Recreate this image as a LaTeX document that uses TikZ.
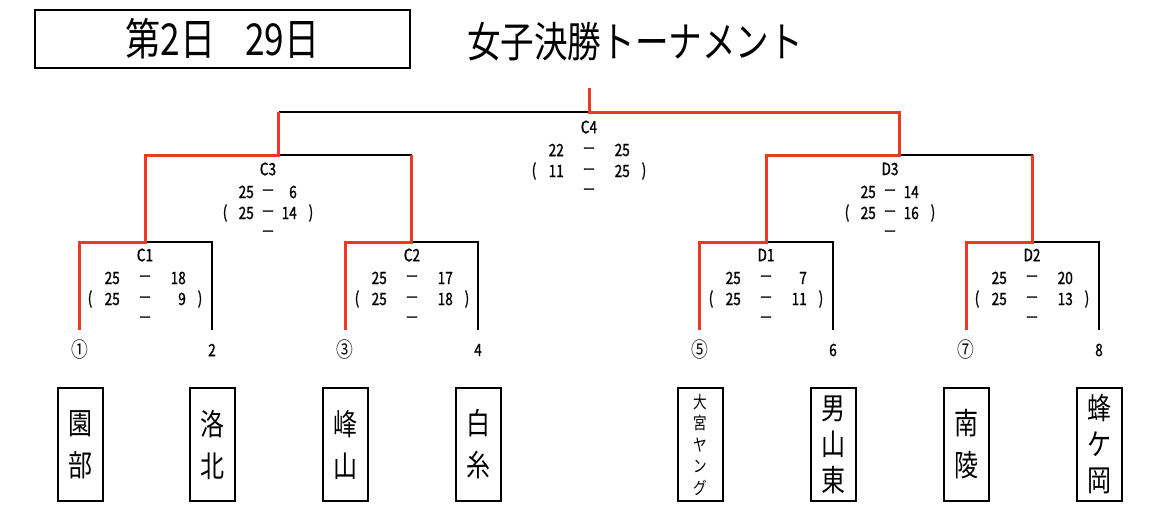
\documentclass[tikz,border=0pt]{standalone}
\usepackage{fontspec}
\setmainfont[FakeStretch=0.8]{Noto Sans CJK JP}
\newfontfamily\scorefont[FakeStretch=0.8,FakeBold=1.2]{Noto Sans CJK JP}
\usetikzlibrary{positioning}
\definecolor{winred}{RGB}{235,58,36}

% one match: name, x, y of label, left gap, right gap, scores
\newcommand{\game}[9]{%
  \node[lbl] (#1) at (#2,#3) {#1};
  \node[sc, anchor=east] (#1a) at (#2-#4,#3+23) {#6};
  \node[sc] (#1m) at (#2,#3+24) {－};
  \node[sc, anchor=east] (#1b) at (#2+#5,#3+23) {#7};
  \node[sc] (#1l) at (#2-#5-14,#3+44) {(};
  \node[sc, anchor=east] (#1c) at (#2-#4,#3+44) {#8};
  \node[sc] (#1n) at (#2,#3+45) {－};
  \node[sc, anchor=east] (#1e) at (#2+#5,#3+44) {#9};
  \node[sc] (#1r) at (#2+#5+14,#3+44) {)};
  \node[sc] (#1o) at (#2,#3+65) {－};
}

\begin{document}
\begin{tikzpicture}[x=1pt,y=-1pt,
    lbl/.style={inner sep=0pt,font=\scorefont\fontsize{17}{20}\selectfont},
    sc/.style={inner sep=0pt,font=\scorefont\fontsize{17}{20}\selectfont},
    seed/.style={inner sep=0pt,font=\scorefont\fontsize{17}{20}\selectfont},
    team/.style={draw,line width=2pt,minimum width=45,minimum height=113,inner sep=0pt,align=center,font=\fontsize{30}{42}\selectfont},
    win/.style={draw=winred,line width=3pt},
    lose/.style={draw=black,line width=2pt}]

    \useasboundingbox (0,0) rectangle (1164,517);

    \node[draw,line width=2pt,minimum width=375,minimum height=58,font=\fontsize{44}{50}\selectfont] (day) at (222.5,39) {第2日\hspace{30pt}29日};
    \node[font=\fontsize{42}{48}\selectfont] (title) at (635,42) {女子決勝トーナメント};

    % bracket points
    \coordinate (t1) at (79,330);
    \coordinate (t2) at (212,330);
    \coordinate (t3) at (345,330);
    \coordinate (t4) at (478,330);
    \coordinate (t5) at (699,330);
    \coordinate (t6) at (833,330);
    \coordinate (t7) at (966,330);
    \coordinate (t8) at (1099,330);
    \coordinate (jC1) at (145.5,242);
    \coordinate (jC2) at (411.5,242);
    \coordinate (jD1) at (766,242);
    \coordinate (jD2) at (1032.5,242);
    \coordinate (jC3) at (278.5,155);
    \coordinate (jD3) at (899.5,155);
    \coordinate (jC4) at (589,112);
    \coordinate (top) at (589,88);

    \draw[lose] (t2) |- (jC1);
    \draw[lose] (t4) |- (jC2);
    \draw[lose] (t6) |- (jD1);
    \draw[lose] (t8) |- (jD2);
    \draw[lose] (jC2 |- jC3) -- (jC3);
    \draw[lose] (jD2 |- jD3) -- (jD3);
    \draw[lose] (jC3 |- jC4) -- (jC4);

    \draw[win] (t1) |- (jC1) |- (jC3) -- (jC3 |- jC4);
    \draw[win] (t3) |- (jC2) -- (jC2 |- jC3);
    \draw[win] (t5) |- (jD1) |- (jD3) -- (jD3 |- jC4) -- (jC4) -- (top);
    \draw[win] (t7) |- (jD2) -- (jD2 |- jD3);

    % scores
    \game{C4}{589}{127}{25}{41}{22}{25}{11}{25}
    \game{C3}{268}{169}{14}{29}{25}{6}{25}{14}
    \game{D3}{890}{169}{14}{29}{25}{14}{25}{16}
    \game{C1}{145}{255}{25}{41}{25}{18}{25}{9}
    \game{C2}{412}{255}{25}{41}{25}{17}{25}{18}
    \game{D1}{766}{255}{25}{41}{25}{7}{25}{11}
    \game{D2}{1032}{255}{25}{41}{25}{20}{25}{13}

    % seeds
    \node[seed,font=\fontsize{21}{24}\selectfont] (s1) at (80,350) {①};
    \node[seed] (s2) at (212,350) {2};
    \node[seed,font=\fontsize{21}{24}\selectfont] (s3) at (345,350) {③};
    \node[seed] (s4) at (478,350) {4};
    \node[seed,font=\fontsize{21}{24}\selectfont] (s5) at (700,350) {⑤};
    \node[seed] (s6) at (833,350) {6};
    \node[seed,font=\fontsize{21}{24}\selectfont] (s7) at (966,350) {⑦};
    \node[seed] (s8) at (1099,350) {8};

    % teams
    \node[team] (n1) at (80,444.5) {園\\部};
    \node[team] (n2) at (212,444.5) {洛\\北};
    \node[team] (n3) at (345,444.5) {峰\\山};
    \node[team] (n4) at (478,444.5) {白\\糸};
    \node[team,font=\fontsize{17}{21.5}\selectfont] (n5) at (700,444.5) {大\\宮\\ヤ\\ン\\グ};
    \node[team,font=\fontsize{30}{36}\selectfont] (n6) at (833,444.5) {男\\山\\東};
    \node[team] (n7) at (966,444.5) {南\\陵};
    \node[team,font=\fontsize{30}{36}\selectfont] (n8) at (1099,444.5) {蜂\\ケ\\岡};

\end{tikzpicture}
\end{document}
